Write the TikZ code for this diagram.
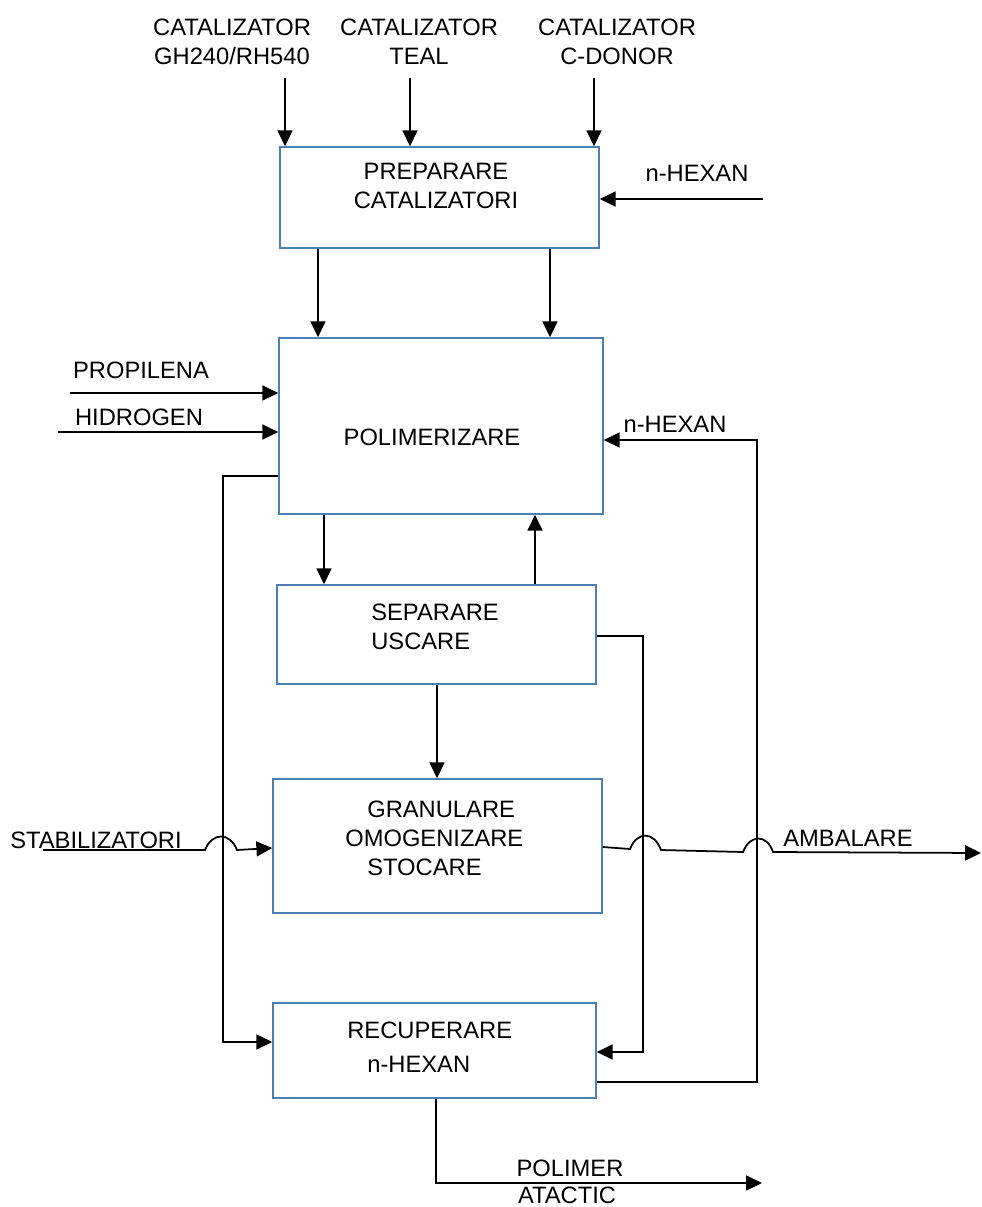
\documentclass[tikz,border=0pt]{standalone}
\usepackage{fontspec}
\setmainfont{Liberation Sans}
\usetikzlibrary{arrows.meta,fit}
\definecolor{boxblue}{RGB}{79,126,180}
\tikzset{
	box/.style={draw=boxblue,line width=0.9pt,inner sep=0pt},
	txt/.style={font=\fontsize{13.5}{16.5}\selectfont,inner sep=0pt,align=center},
	arr/.style={-{Triangle[length=9pt,width=8.5pt]},line width=1pt},
	ln/.style={line width=1pt}
}

\begin{document}
\begin{tikzpicture}[x=0.02cm,y=-0.02cm]
	\useasboundingbox (0,0) rectangle (981,1207);
	% boxes
	\node [box,fit={(280,147) (599,248)}] (prep) {};
	\node [box,fit={(279,338) (603,514)}] (poly) {};
	\node [box,fit={(277,585) (596,684)}] (sep) {};
	\node [box,fit={(273,779) (602,913)}] (gran) {};
	\node [box,fit={(273,1003) (596,1098)}] (rec) {};
	
	% texts
	\node [txt] (cat1) at (232,42) {CATALIZATOR\\GH240/RH540};
	\node [txt] (cat2) at (419,42) {CATALIZATOR\\TEAL};
	\node [txt] (cat3) at (617,42) {CATALIZATOR\\C-DONOR};
	\node [txt] (prept) at (436,186) {PREPARARE\\CATALIZATORI};
	\node [txt] (hex1) at (697,173) {n-HEXAN};
	\node [txt] (propt) at (141,370) {PROPILENA};
	\node [txt] (hidt) at (139,417) {HIDROGEN};
	\node [txt] (polyt) at (432,437) {POLIMERIZARE};
	\node [txt] (hex2) at (675,424) {n-HEXAN};
	\node [txt,align=left,anchor=west] (sept) at (371,627) {SEPARARE\\USCARE};
	\node [txt,align=left,anchor=west] (grant) at (345,838) {\hspace*{0.44cm}GRANULARE\\OMOGENIZARE\\\hspace*{0.44cm}STOCARE};
	\node [txt] (stabt) at (96,840) {STABILIZATORI};
	\node [txt] (ambt) at (848,838) {AMBALARE};
	\node [txt,align=left,anchor=west] (rect) at (347,1047) {RECUPERARE\\[3pt]\hspace*{0.4cm}n-HEXAN};
	\node [txt] (polt) at (570,1168) {POLIMER};
	\node [txt] (atat) at (567,1195) {ATACTIC};
	
	% free ends
	\coordinate (in1) at (285,78);
	\coordinate (in2) at (410,78);
	\coordinate (in3) at (594,78);
	\coordinate (inhex) at (763,199);
	\coordinate (inprop) at (70,393);
	\coordinate (inhid) at (58,432);
	\coordinate (instab) at (43,850);
	\coordinate (outamb) at (981,853);
	\coordinate (outpol) at (762,1183);
	
	% connectors
	\draw [arr] (in1) -- (in1 |- prep.north);
	\draw [arr] (in2) -- (in2 |- prep.north);
	\draw [arr] (in3) -- (in3 |- prep.north);
	\draw [arr] (inhex) -- (inhex -| prep.east);
	\draw [arr] (318,0 |- prep.south) -- (318,0 |- poly.north);
	\draw [arr] (550,0 |- prep.south) -- (550,0 |- poly.north);
	\draw [arr] (inprop) -- (inprop -| poly.west);
	\draw [arr] (inhid) -- (inhid -| poly.west);
	\draw [arr] (324,0 |- poly.south) -- (324,0 |- sep.north);
	\draw [arr] (535,0 |- sep.north) -- (535,0 |- poly.south);
	\draw [arr] (437,0 |- sep.south) -- (437,0 |- gran.north);
	\draw [arr] (poly.west |- 0,476) -| (223,1042) -- (rec.west |- 0,1042);
	\draw [arr] (sep.east |- 0,636) -| (643,1052) -- (rec.east |- 0,1052);
	\draw [arr] (rec.east |- 0,1082) -| (757,440) -- (poly.east |- 0,440);
	\draw [arr] (instab) -- (205,850) .. controls (212,832) and (230,832) .. (237,850) -- (gran.west |- 0,848);
	\draw [arr] (gran.east |- 0,847) -- (630,849) .. controls (637,831) and (654,831) .. (661,850) -- (743,852) .. controls (750,834) and (767,834) .. (773,852) -- (outamb);
	\draw [arr] (436,0 |- rec.south) |- (outpol);
\end{tikzpicture}
\end{document}
